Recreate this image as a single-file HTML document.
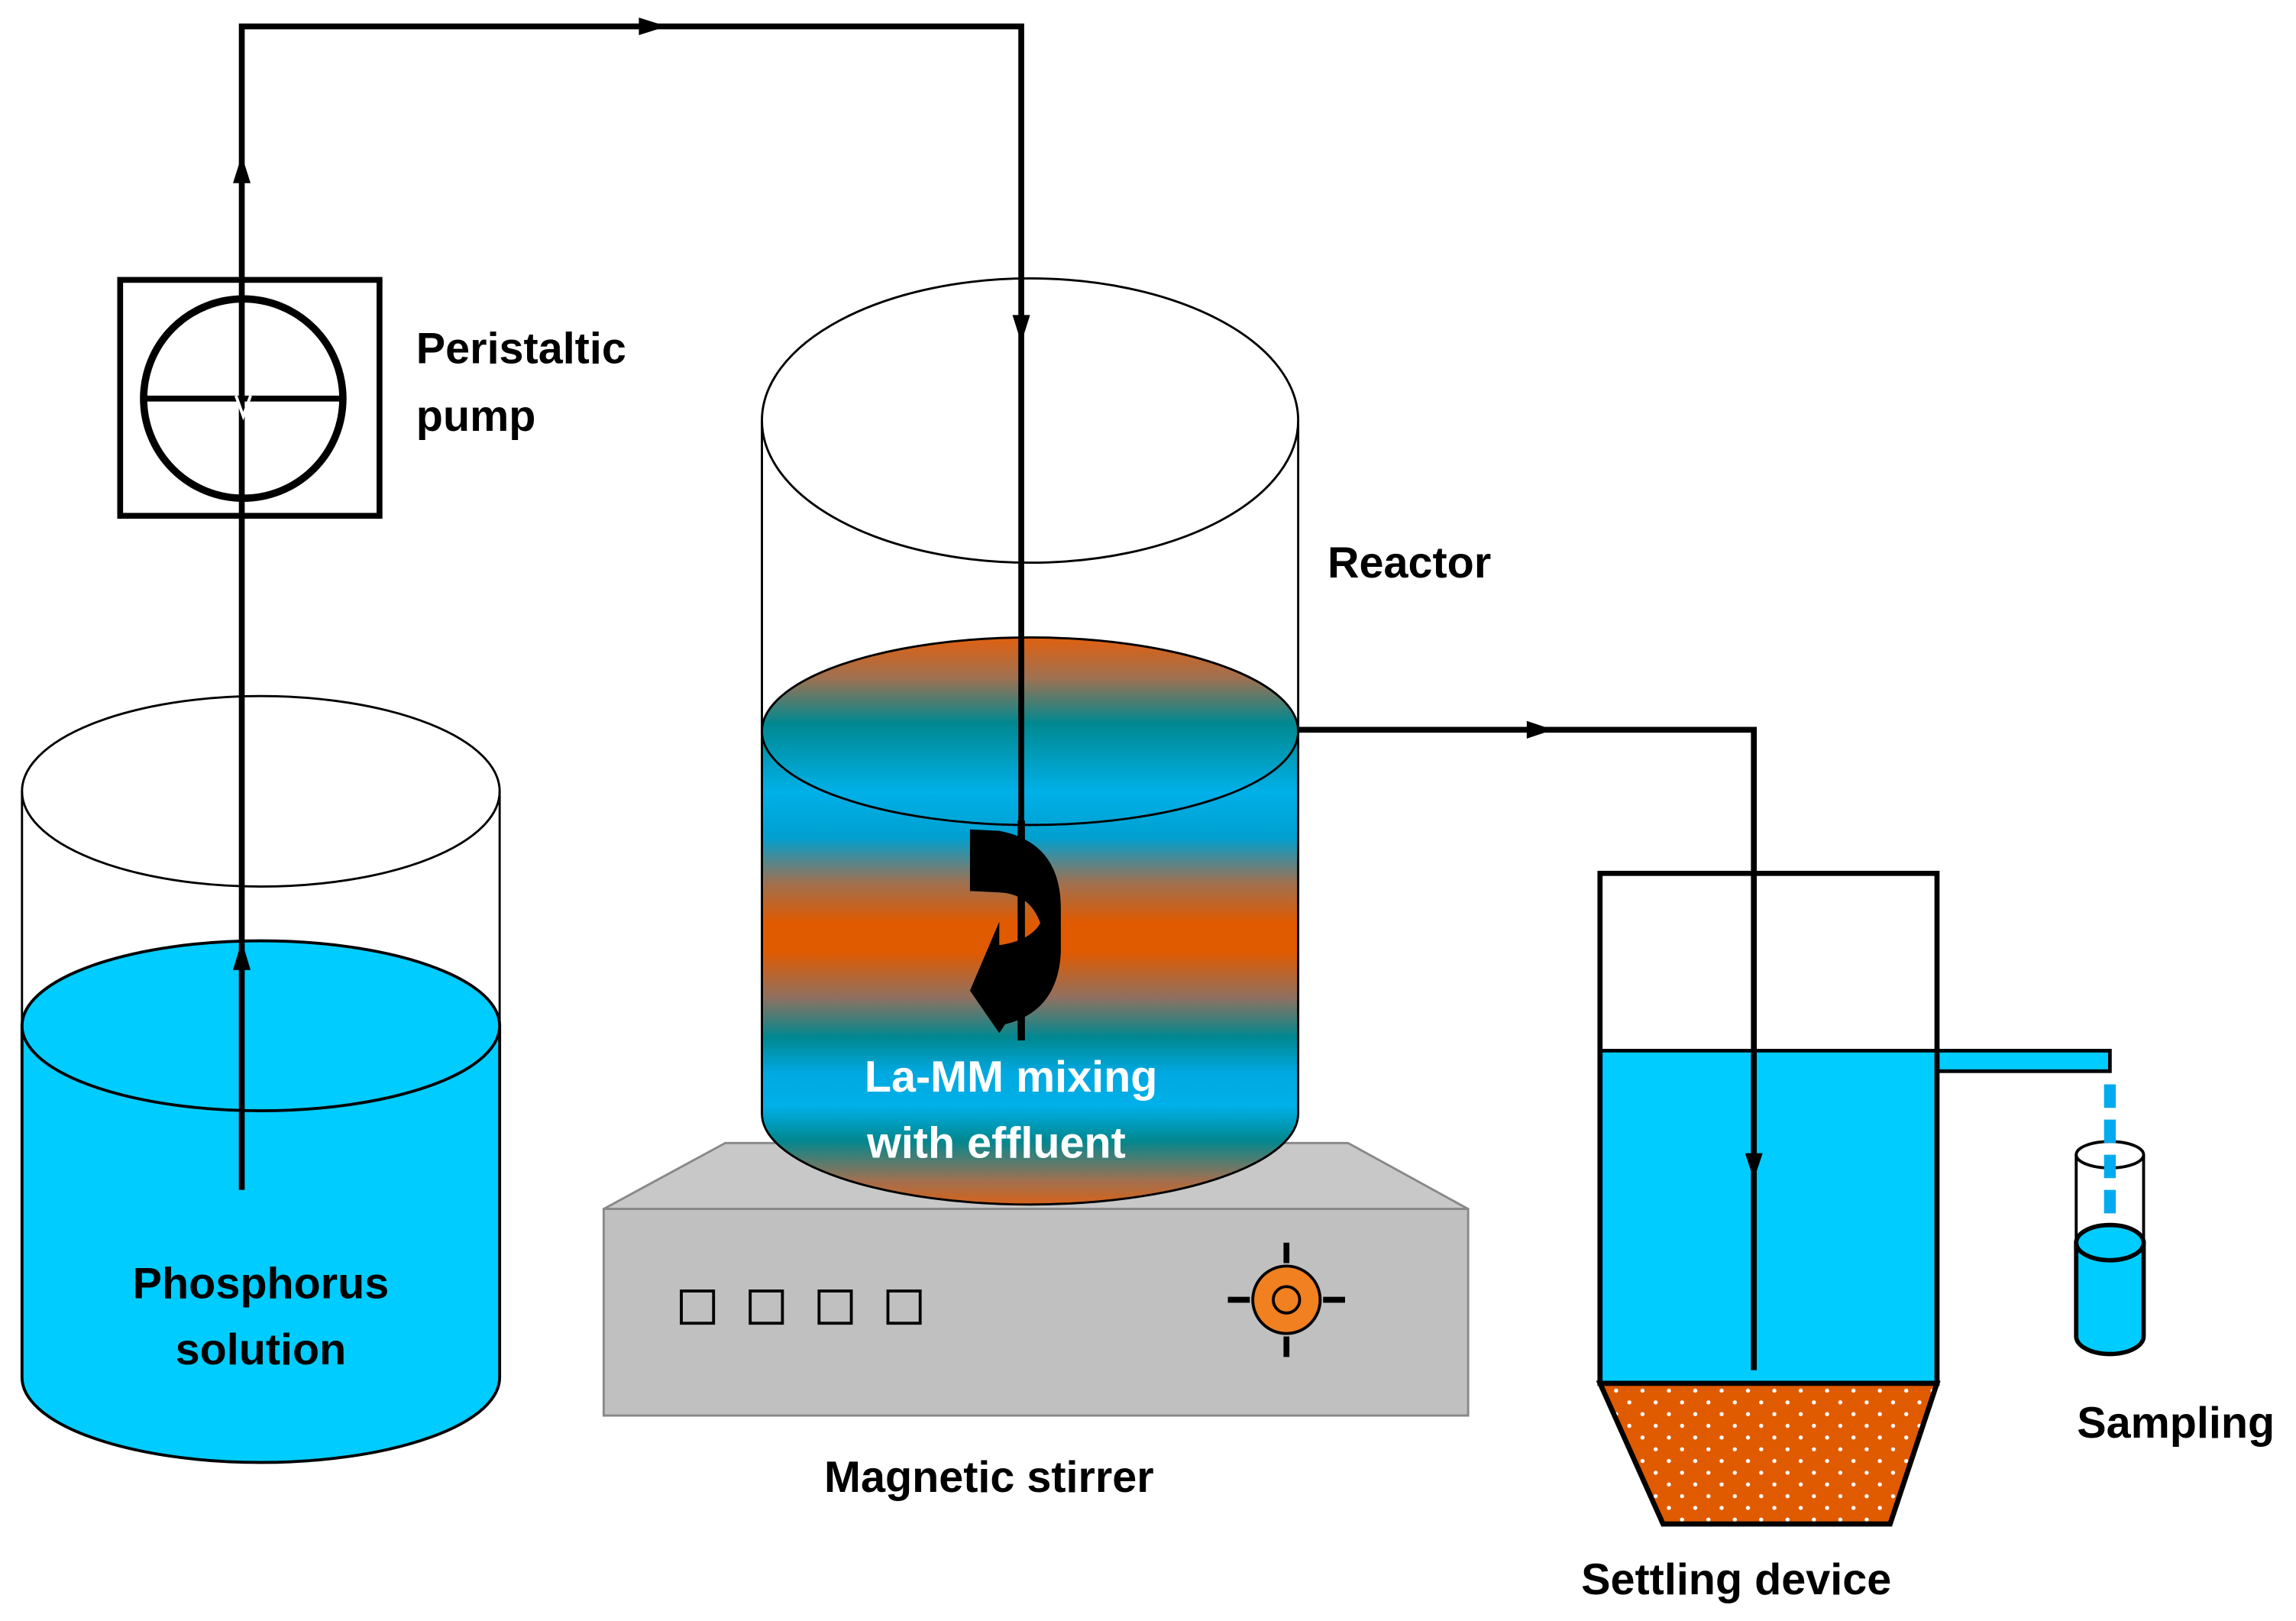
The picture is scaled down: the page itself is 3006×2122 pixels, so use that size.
<!DOCTYPE html>
<html><head><meta charset="utf-8"><style>html,body{margin:0;padding:0;background:#fff}svg{display:block}text{font-family:"Liberation Sans",sans-serif;font-weight:bold;font-size:30px;fill:#000}</style></head>
<body>
<svg width="3006" height="2122" viewBox="0 0 1567 1106.2" xmlns="http://www.w3.org/2000/svg">
<defs>
<linearGradient id="mix" x1="0" y1="435" x2="0" y2="825" gradientUnits="userSpaceOnUse">
<stop offset="0" stop-color="#E06010"/>
<stop offset="0.07" stop-color="#A07050"/>
<stop offset="0.15" stop-color="#008890"/>
<stop offset="0.27" stop-color="#00B0E8"/>
<stop offset="0.35" stop-color="#00A0D0"/>
<stop offset="0.43" stop-color="#A07050"/>
<stop offset="0.5" stop-color="#E05A00"/>
<stop offset="0.55" stop-color="#E05A00"/>
<stop offset="0.63" stop-color="#907060"/>
<stop offset="0.7" stop-color="#008890"/>
<stop offset="0.76" stop-color="#00A8E0"/>
<stop offset="0.82" stop-color="#00B0E8"/>
<stop offset="0.88" stop-color="#008890"/>
<stop offset="0.95" stop-color="#A07050"/>
<stop offset="1" stop-color="#E06010"/>
</linearGradient>
<pattern id="dots" width="18" height="16" patternUnits="userSpaceOnUse">
<rect width="18" height="16" fill="#E05A00"/><circle cx="5" cy="5" r="1.4" fill="#fff"/><circle cx="14" cy="13" r="1.4" fill="#fff"/>
</pattern>
</defs>

<!-- Left beaker -->
<path d="M15,700 L15,940 A163,58 0 0 0 341,940 L341,700 Z" fill="#00CCFF" stroke="#000" stroke-width="2"/>
<ellipse cx="178" cy="700" rx="163" ry="58" fill="#00CCFF" stroke="#000" stroke-width="2"/>
<ellipse cx="178" cy="540" rx="163" ry="65" fill="none" stroke="#000" stroke-width="1.5"/>
<line x1="15" y1="540" x2="15" y2="700" stroke="#000" stroke-width="1.5"/>
<line x1="341" y1="540" x2="341" y2="700" stroke="#000" stroke-width="1.5"/>
<text x="178" y="886" text-anchor="middle">Phosphorus</text>
<text x="178" y="931" text-anchor="middle">solution</text>

<!-- Magnetic stirrer -->
<polygon points="412,825 495,780 920,780 1002,825" fill="#C8C8C8" stroke="#888" stroke-width="1.5"/>
<rect x="412" y="825" width="590" height="141" fill="#C0C0C0" stroke="#888" stroke-width="1.5"/>
<g fill="none" stroke="#000" stroke-width="2">
<rect x="465" y="881" width="22" height="22"/><rect x="512" y="881" width="22" height="22"/><rect x="559" y="881" width="22" height="22"/><rect x="606" y="881" width="22" height="22"/>
</g>
<g stroke="#000" stroke-width="4">
<line x1="878" y1="848" x2="878" y2="862"/><line x1="878" y1="912" x2="878" y2="926"/>
<line x1="838" y1="887" x2="853" y2="887"/><line x1="903" y1="887" x2="918" y2="887"/>
</g>
<circle cx="878" cy="887" r="23" fill="#F08020" stroke="#000" stroke-width="2"/>
<circle cx="878" cy="887" r="9" fill="none" stroke="#000" stroke-width="2"/>
<text x="675" y="1018" text-anchor="middle">Magnetic stirrer</text>

<!-- Reactor -->
<path d="M520,499 L520,760 A183,62 0 0 0 886,760 L886,499 Z" fill="url(#mix)" stroke="#000" stroke-width="1.5"/>
<ellipse cx="703" cy="499" rx="183" ry="64" fill="url(#mix)" stroke="#000" stroke-width="1.5"/>
<ellipse cx="703" cy="287" rx="183" ry="97" fill="none" stroke="#000" stroke-width="1.5"/>
<line x1="520" y1="287" x2="520" y2="499" stroke="#000" stroke-width="1.5"/>
<line x1="886" y1="287" x2="886" y2="499" stroke="#000" stroke-width="1.5"/>
<text x="906" y="394">Reactor</text>

<!-- Settling device -->
<rect x="1092" y="717" width="230" height="227" fill="#00CCFF"/>
<rect x="1322" y="717" width="118" height="14" fill="#00CCFF" stroke="#000" stroke-width="2.5"/>
<rect x="1092" y="596" width="230" height="348" fill="none" stroke="#000" stroke-width="3.5"/>
<line x1="1092" y1="717" x2="1322" y2="717" stroke="#000" stroke-width="2.5"/>
<polygon points="1092,944 1322,944 1290,1040 1135,1040" fill="url(#dots)" stroke="#000" stroke-width="3.5"/>
<text x="1185" y="1088" text-anchor="middle">Settling device</text>

<!-- Pipes -->
<g fill="none" stroke="#000" stroke-width="4">
<polyline points="165,812 165,18 697,18 697,710"/>
<polyline points="886,498 1197,498 1197,935"/>
</g>
<g fill="#000">
<polygon points="165,642 159,662 171,662"/>
<polygon points="165,106 159,125 171,125"/>
<polygon points="455,18 436,12 436,24"/>
<polygon points="697,234 691,215 703,215"/>
<polygon points="1060,498 1042,492 1042,504"/>
<polygon points="1197,805 1191,787 1203,787"/>
</g>

<!-- stir arrow -->
<path d="M662,566 L682,567 Q724,575 724,620 L724,650 Q722,690 686,699 L682,705 L662,676 L682,629 L682,645 Q703,642 710,630 Q703,610 682,609 L662,608 Z" fill="#000"/>
<line x1="697" y1="560" x2="697" y2="710" stroke="#000" stroke-width="5"/>
<text x="690" y="745" text-anchor="middle" style="fill:#fff">La-MM mixing</text>
<text x="680" y="790" text-anchor="middle" style="fill:#fff">with effluent</text>

<!-- Pump -->
<rect x="82" y="191" width="177" height="161" fill="#fff" stroke="#000" stroke-width="4"/>
<circle cx="166" cy="272" r="68" fill="#fff" stroke="#000" stroke-width="5"/>
<line x1="98" y1="272" x2="234" y2="272" stroke="#000" stroke-width="4"/>
<line x1="165" y1="191" x2="165" y2="352" stroke="#000" stroke-width="4"/>
<polyline points="161,270 166,284 171,270" fill="none" stroke="#fff" stroke-width="2"/>
<text x="284" y="248">Peristaltic</text>
<text x="284" y="294">pump</text>

<!-- Sampling -->
<path d="M1417,848 L1417,912 A23,12 0 0 0 1463,912 L1463,848 Z" fill="#00CCFF" stroke="#000" stroke-width="3"/>
<ellipse cx="1440" cy="848" rx="23" ry="12" fill="#00CCFF" stroke="#000" stroke-width="3"/>
<line x1="1417" y1="788" x2="1417" y2="848" stroke="#000" stroke-width="2"/>
<line x1="1463" y1="788" x2="1463" y2="848" stroke="#000" stroke-width="2"/>
<ellipse cx="1440" cy="788" rx="23" ry="9" fill="none" stroke="#000" stroke-width="2"/>
<line x1="1440" y1="740" x2="1440" y2="830" stroke="#00AAEE" stroke-width="8" stroke-dasharray="16,8"/>
<text x="1485" y="981" text-anchor="middle">Sampling</text>
</svg>
</body></html>
